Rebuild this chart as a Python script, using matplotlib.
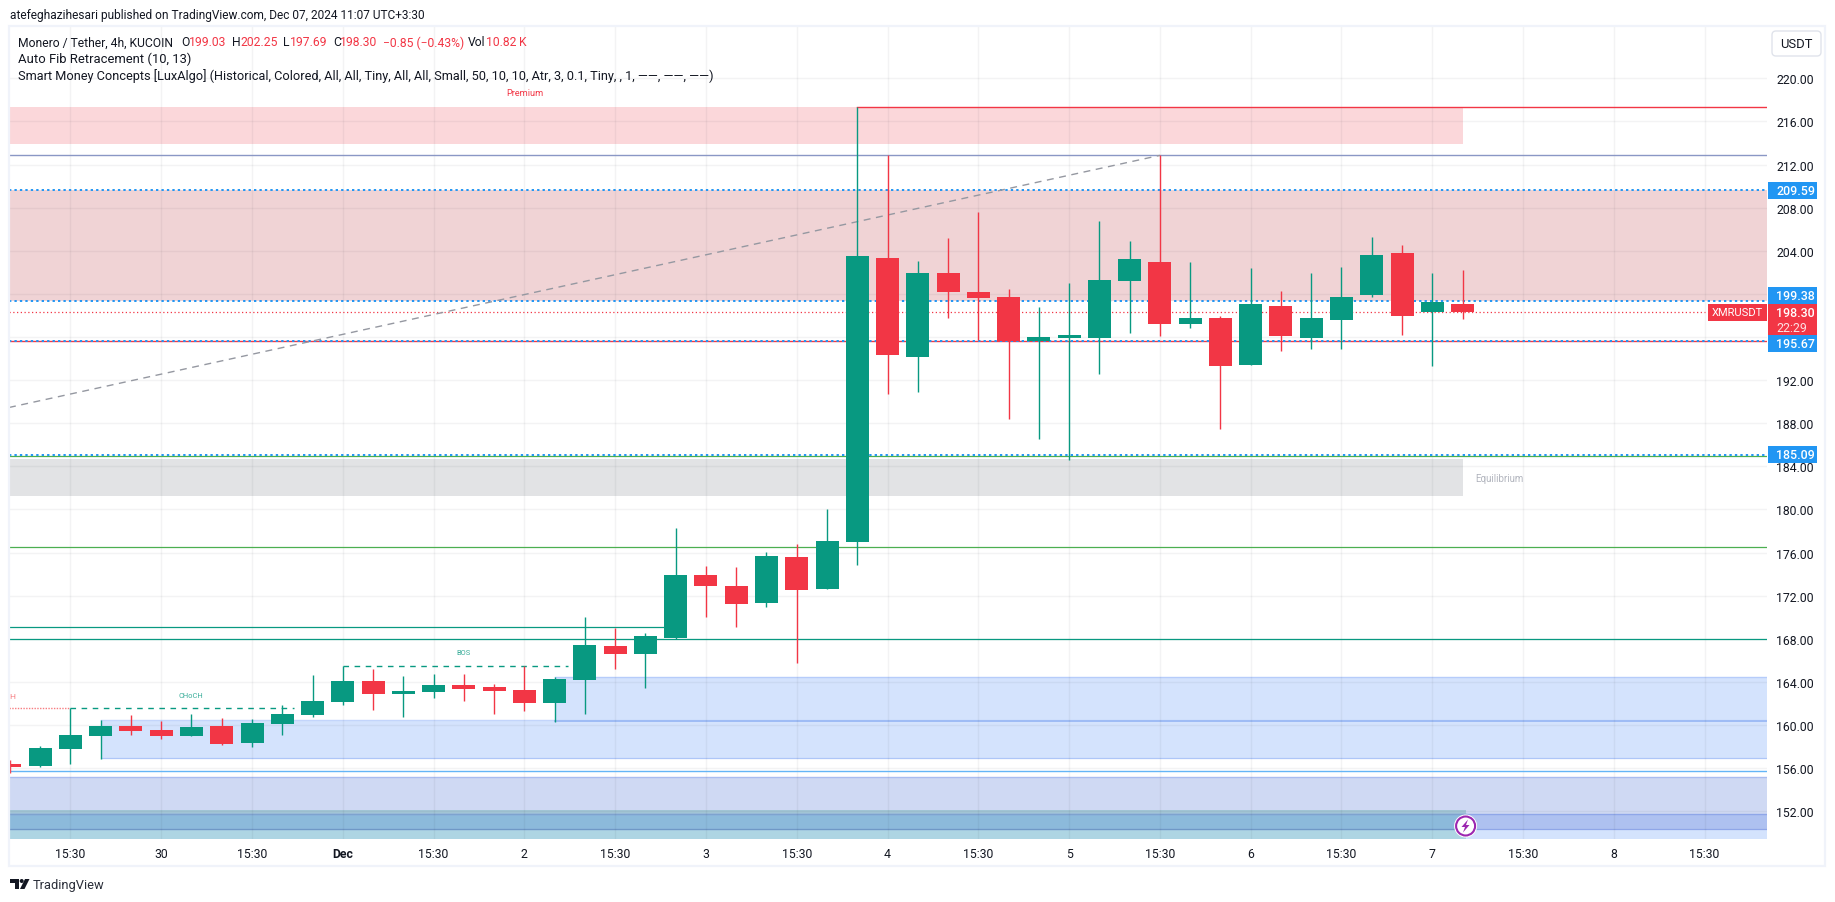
import matplotlib
matplotlib.use("Agg")
import matplotlib.pyplot as plt
from matplotlib.patches import Rectangle, Circle, Polygon, FancyBboxPatch
from matplotlib.transforms import IdentityTransform

plt.rcParams['font.family'] = ['Roboto', 'DejaVu Sans']

# ---- data ----
bar_index = list(range(-2, 47))
opens = [156.39,156.21,157.78,158.99,159.92,159.55,158.99,159.92,158.34,160.10,160.94,162.14,164.09,162.88,163.07,
         163.72,163.53,163.26,162.05,164.18,167.34,166.60,168.08,173.92,172.90,171.33,175.59,172.63,176.99,203.33,
         194.15,201.94,200.18,199.71,195.63,195.91,195.91,201.20,202.96,197.21,197.76,193.40,198.88,195.91,197.58,
         199.90,203.79,198.32,199.03]
closes = [156.11,157.86,159.08,159.92,159.45,158.99,159.82,158.25,160.19,161.03,162.24,164.09,162.88,163.16,163.72,
          163.35,163.16,162.05,164.28,167.43,166.60,168.27,173.92,172.90,171.23,175.69,172.53,177.08,203.52,194.33,
          201.94,200.18,199.62,195.63,196.00,196.19,201.29,203.24,197.21,197.76,193.31,199.06,196.09,197.76,199.71,
          203.61,197.95,199.25,198.30]
highs = [156.76,158.06,161.55,160.47,160.94,160.38,161.03,160.66,160.57,161.86,164.65,165.45,165.20,164.55,164.74,
         164.74,163.81,165.45,164.46,170.03,169.00,168.54,178.28,174.76,174.67,176.06,176.80,180.05,217.31,212.85,
         203.05,205.19,207.60,200.45,198.79,201.01,206.76,204.91,212.85,202.96,197.95,202.40,200.27,201.94,202.50,
         205.28,204.54,201.94,202.25]
lows = [155.59,156.11,156.39,156.85,159.08,158.71,158.99,158.15,157.97,159.08,160.75,161.86,161.40,160.75,162.51,
        162.24,161.03,161.31,160.29,161.03,165.20,163.44,167.99,170.03,169.10,170.96,165.76,172.63,174.85,190.71,
        190.90,197.76,195.72,188.40,186.54,184.59,192.57,196.37,196.09,196.84,187.47,193.40,194.70,194.89,194.89,
        199.71,196.19,193.31,197.69]

price_ticks = list(range(152, 224, 4))
hidden_price_labels = [196, 200]
time_ticks = [0, 3, 6, 9, 12, 15, 18, 21, 24, 27, 30, 33, 36, 39, 42, 45, 48, 51, 54]
time_labels = ['15:30', '30', '15:30', 'Dec', '15:30', '2', '15:30', '3', '15:30', '4',
               '15:30', '5', '15:30', '6', '15:30', '7', '15:30', '8', '15:30']

levels_dotted = [209.59, 199.38, 195.67, 185.09]
last_price = 198.30
red_level = 195.63
fib_line = [(-2.03, 189.46), (36, 212.85)]
GREEN = '#089981'
RED = '#f23645'

W, H = 1835, 903
fig = plt.figure(figsize=(W / 100, H / 100), dpi=100, facecolor='white')
AL, AR, AT, AB = 9, 1767, 27, 840
ax = fig.add_axes([AL / W, 1 - AB / H, (AR - AL) / W, (AB - AT) / H])
XMIN, XMAX = -2.03, 56.06
ax.set_xlim(XMIN, XMAX)
ax.set_ylim(149.43, 224.85)
for s in ax.spines.values():
    s.set_visible(False)


def zone(x0, x1, lo, hi, color, edge=None, lw=1.0):
    ax.add_patch(Rectangle((x0, lo), x1 - x0, hi - lo, fc=color, ec='none', zorder=1))
    if edge:
        ax.plot([x0, x1], [hi, hi], color=edge, lw=lw, zorder=1.2)


# ---- zones ----
zone(XMIN, 46.03, 213.9, 217.31, '#fbd7da')
zone(XMIN, XMAX, 199.38, 209.59, '#f0d3d5')
zone(XMIN, 46.03, 181.28, 184.68, '#e2e3e5')
zone(1, XMAX, 156.9, 160.47, '#d4e3fd', '#c3d5fb')
ax.plot([1, XMAX], [156.9, 156.9], color='#aec6f8', lw=0.9, zorder=1.2)
zone(16, XMAX, 160.38, 164.43, '#d4e3fd', '#b6ccfa')
ax.plot([16, XMAX], [160.38, 160.38], color='#9ebcf5', lw=1.4, zorder=1.2)
zone(XMIN, XMAX, 149.43, 155.15, '#cfd9f3', '#a9bcf0')
zone(XMIN, XMAX, 149.43, 150.39, '#d4e3fd')
zone(XMIN, XMAX, 150.39, 151.75, '#aec1f0', '#8fa6e8')
ax.plot([XMIN, XMAX], [150.39, 150.39], color='#8fa6e8', lw=0.9, zorder=1.2)
zone(XMIN, 46.13, 149.43, 150.39, '#aed5e3')
zone(XMIN, 46.13, 151.75, 152.12, '#a3c6d6')
zone(XMIN, 46.13, 150.39, 151.75, '#8cbadb', '#7ea3cf')
ax.plot([XMIN, 46.13], [150.39, 150.39], color='#6f98c6', lw=0.9, zorder=1.2)

# ---- grid ----
ax.set_axisbelow(False)
ax.yaxis.tick_right()
ax.set_yticks(price_ticks)
ax.set_yticklabels(['' if t in hidden_price_labels else f'{t:.2f}' for t in price_ticks])
ax.set_xticks(time_ticks)
ax.set_xticklabels(time_labels)
ax.grid(True, color='#2a2e39', alpha=0.055, lw=1.0)
ax.tick_params(axis='both', length=0, labelsize=8.8, labelcolor='#131722')
ax.tick_params(axis='y', pad=6.5)
ax.tick_params(axis='x', pad=5.5)
for lab in ax.get_xticklabels():
    if lab.get_text() == 'Dec':
        lab.set_fontweight('bold')

# ---- horizontal lines ----
ax.plot([XMIN, XMAX], [212.85, 212.85], color='#8a97c5', lw=1.0, zorder=3)
ax.plot([26, XMAX], [217.31, 217.31], color=RED, lw=1.0, zorder=3)
ax.plot([XMIN, XMAX], [red_level, red_level], color=RED, lw=1.0, zorder=3)
ax.plot([XMIN, XMAX], [185.0, 185.0], color='#4caf50', lw=0.9, zorder=3)
ax.plot([XMIN, XMAX], [176.49, 176.49], color='#4caf50', lw=0.9, zorder=3)
ax.plot([XMIN, XMAX], [167.96, 167.96], color=GREEN, lw=0.9, zorder=3)
ax.plot([XMIN, 20], [169.07, 169.07], color=GREEN, lw=0.9, zorder=3)
ax.plot([XMIN, XMAX], [155.71, 155.71], color='#64b5f6', lw=1.0, zorder=3)
for lv in levels_dotted:
    ax.plot([XMIN, XMAX], [lv, lv], color='#2196f3', lw=1.4, ls=(0, (1.2, 1.6)), zorder=3.2)
ax.plot([XMIN, 54.0], [last_price, last_price], color=RED, lw=0.9, ls=(0, (1, 2)), zorder=3.2)
ax.plot(*zip(*fib_line), color='#9598a1', lw=1.0, ls=(0, (5, 4)), zorder=3.3)
ax.plot([9, 16.44], [165.45, 165.45], color=GREEN, lw=1.0, ls=(0, (4, 4)), zorder=3.3)
ax.plot([0, 7.4], [161.55, 161.55], color=GREEN, lw=1.0, ls=(0, (4, 4)), zorder=3.3)
ax.plot([XMIN, 0], [161.6, 161.6], color='#f77c80', lw=1.0, ls=(0, (1, 1)), zorder=3.3)

# ---- candles ----
for i, o, c, h, l in zip(bar_index, opens, closes, highs, lows):
    col = GREEN if c >= o else RED
    ax.plot([i, i], [l, h], color=col, lw=1.0, zorder=4, solid_capstyle='butt')
    ax.add_patch(Rectangle((i - 0.38, min(o, c)), 0.76, abs(c - o), fc=col, ec='none', zorder=5))


def T(x, y, s, color='#131722', size=8.7, ha='left', **kw):
    return fig.text(x / W, 1 - y / H, s, color=color, fontsize=size, ha=ha, va='center', **kw)


def box(x, y, w, h, color):
    fig.add_artist(Rectangle((x, H - y - h), w, h, transform=IdentityTransform(), fc=color, ec='none', zorder=2))


# ---- small chart labels ----
T(524.5, 93, 'Premium', RED, 6.6, 'center')
T(1475, 479, 'Equilibrium', '#b2b5be', 7.0)
T(191, 697, 'CHoCH', GREEN, 5.4, 'center', alpha=0.8)
T(463, 654, 'BOS', GREEN, 5.4, 'center', alpha=0.8)
T(9.5, 697, 'H', '#f77c80', 6.0)

# ---- header and legend ----
T(10, 15, 'atefeghazihesari published on TradingView.com, Dec 07, 2024 11:07 UTC+3:30', size=8.6)
T(18, 43, 'Monero / Tether, 4h, KUCOIN', size=8.7)
for x, s, col in [(181, 'O', '#131722'), (189, '199.03', RED), (232, 'H', '#131722'), (240, '202.25', RED),
                  (283, 'L', '#131722'), (290, '197.69', RED), (333, 'C', '#131722'), (340, '198.30', RED),
                  (383, '\u22120.85 (\u22120.43%)', RED), (468, 'Vol', '#131722'), (486, '10.82\u2009K', RED)]:
    T(x, 43, s, col, 8.7)
T(18, 59, 'Auto Fib Retracement (10, 13)', size=9.4)
T(18, 76, 'Smart Money Concepts [LuxAlgo] (Historical, Colored, All, All, Tiny, All, All, Small, 50, 10, 10, '
          'Atr, 3, 0.1, Tiny, , 1, \u2014\u2014, \u2014\u2014, \u2014\u2014)', size=9.2)

# ---- price labels ----
for y, s in [(183, '209.59'), (288, '199.38'), (335.7, '195.67'), (447, '185.09')]:
    box(1768, y, 49, 17, '#2196f3')
    T(1776, y + 8.5, s, 'white', 8.9, fontweight='medium')
box(1768, 305, 49, 30.7, RED)
T(1776, 313.5, f'{last_price:.2f}', 'white', 8.9, fontweight='medium')
T(1776, 328, '22:29', '#fde0e2', 8.9)
box(1708, 305, 59, 17, RED)
T(1737.5, 313.5, 'XMRUSDT', 'white', 8.0, 'center')

# ---- USDT button ----
fig.add_artist(FancyBboxPatch((1772, H - 57), 49, 25, boxstyle='round,pad=0,rounding_size=4',
                              transform=IdentityTransform(), fc='white', ec='#e0e3eb', lw=1, zorder=2))
T(1796.5, 44, 'USDT', size=9.4, ha='center')

# ---- frame ----
fig.add_artist(Rectangle((AL - 0.5, H - 867), 1825 - AL, 867 - 26.5, transform=IdentityTransform(),
                         fc='none', ec='#f0f3fa', lw=1.6, zorder=1))

# ---- flash icon ----
fig.add_artist(Circle((1465.6, H - 827), 11.5, transform=IdentityTransform(), fc='white', ec='none', zorder=6))
fig.add_artist(Circle((1465.6, H - 827), 9.5, transform=IdentityTransform(), fc='white', ec='#9c27b0', lw=1.5, zorder=6))
fig.add_artist(Polygon([(1468, H - 820.5), (1461.5, H - 828), (1465, H - 828), (1463, H - 833.5),
                        (1469.5, H - 826), (1466, H - 826)], closed=True, transform=IdentityTransform(),
                       fc='#9c27b0', ec='none', zorder=7))

# ---- logo ----
for pts in ([(10, 880), (19, 880), (19, 890), (14.5, 890), (14.5, 884), (10, 884)],
            [(25, 880), (29.5, 880), (24.5, 890), (20, 890)]):
    fig.add_artist(Polygon([(x, H - y) for x, y in pts], closed=True, transform=IdentityTransform(),
                           fc='#131722', ec='none', zorder=3))
fig.add_artist(Circle((21.7, H - 882), 2, transform=IdentityTransform(), fc='#131722', ec='none', zorder=3))
T(33, 885.5, 'TradingView', '#2a2e39', 9.3)

fig.savefig('out.png', dpi=100)
